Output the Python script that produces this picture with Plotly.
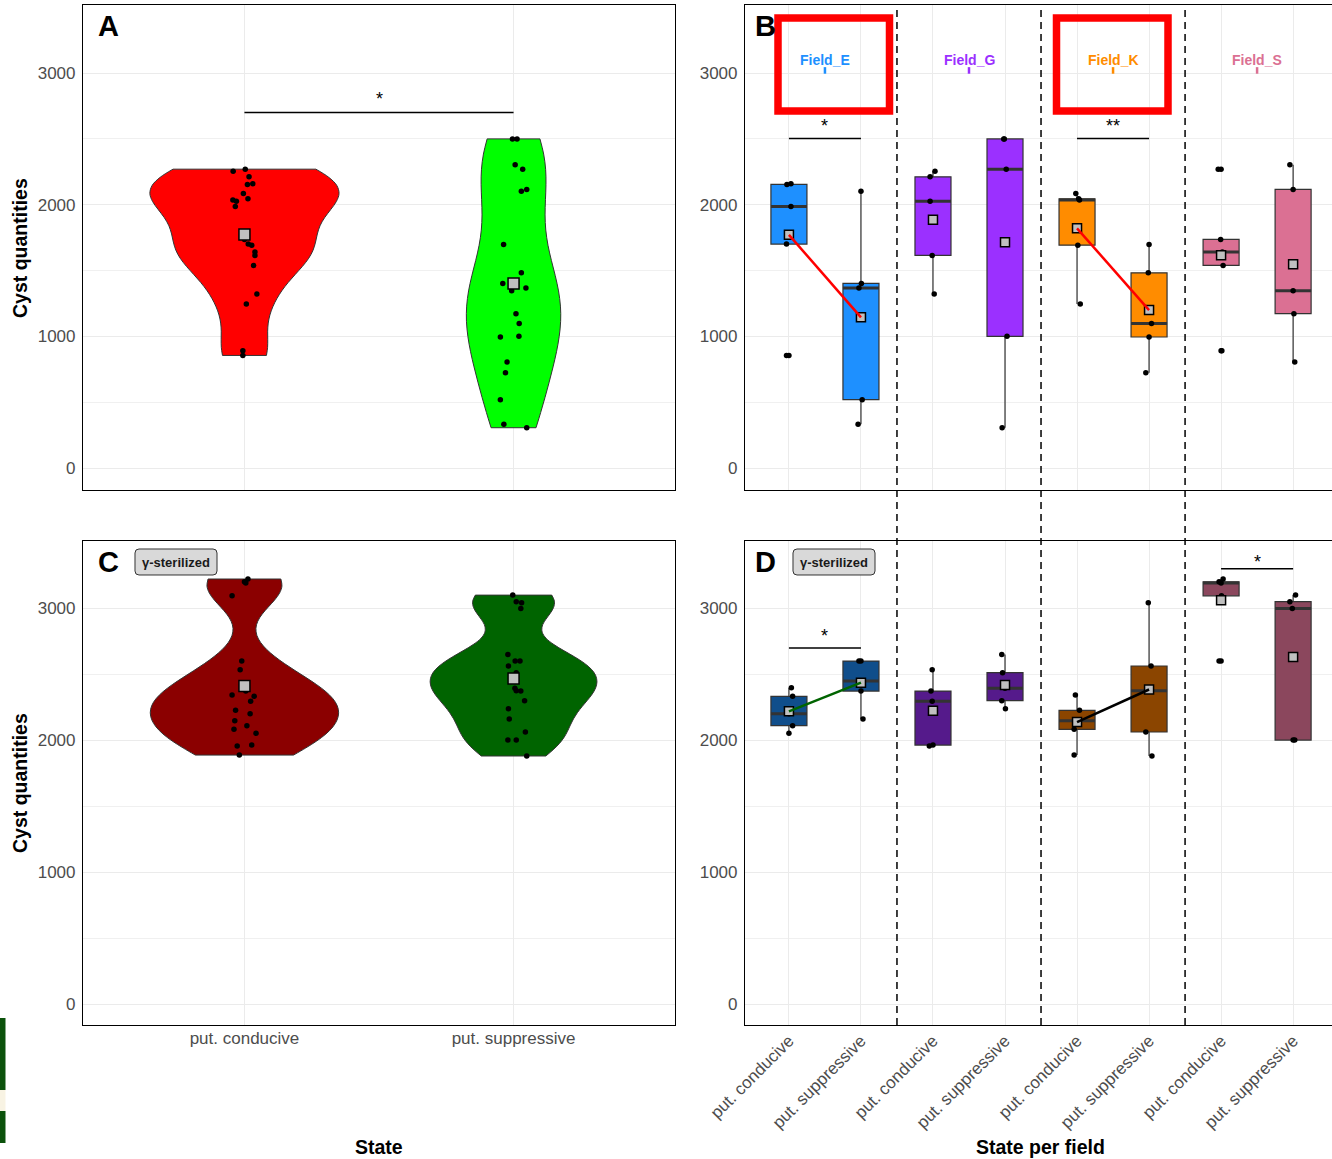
import numpy as np
import plotly.graph_objects as go

W, H = 1332, 1159
FONT = "Liberation Sans"

state_labels = ["put. conducive", "put. suppressive"]
field_names = ["Field_E", "Field_G", "Field_K", "Field_S"]
y_ticks = [0, 1000, 2000, 3000]

# ---- Panel B: cyst quantities per field and state (natural soil)
B_E_cond = [2160, 2154, 1987, 1701, 855]
B_E_supp = [2103, 1402, 1367, 519, 332]
B_G_cond = [2255, 2212, 2027, 1615, 1321]
B_G_supp = [2500, 2500, 2270, 1000, 306]
B_K_cond = [2086, 2045, 2035, 1693, 1245]
B_K_supp = [1698, 1483, 1098, 995, 724]
B_S_cond = [2270, 1736, 1640, 1539, 891]
B_S_supp = [2303, 2116, 1346, 1172, 805]

# ---- Panel D: cyst quantities per field and state (gamma-sterilized soil)
D_E_cond = [2396, 2331, 2199, 2109, 2051]
D_E_supp = [2598, 2598, 2447, 2371, 2159]
D_G_cond = [2533, 2371, 2293, 1962, 1955]
D_G_supp = [2649, 2510, 2392, 2298, 2237]
D_K_cond = [2341, 2225, 2146, 2081, 1886]
D_K_supp = [3040, 2561, 2374, 2061, 1879]
D_S_cond = [3220, 3199, 3189, 3093, 2598]
D_S_supp = [3098, 3048, 2997, 2000, 2000]

# Panels A and C pool the fields
A_cond = B_E_cond + B_G_cond + B_K_cond + B_S_cond
A_supp = B_E_supp + B_G_supp + B_K_supp + B_S_supp
C_cond = D_E_cond + D_G_cond + D_K_cond + D_S_cond
C_supp = D_E_supp + D_G_supp + D_K_supp + D_S_supp

# horizontal jitter of the points (category units)
jit_A_cond = [0.031, 0.011, -0.034, 0.014, -0.006, -0.042, 0.017, -0.030, 0.039, 0.046,
              -0.004, 0.013, -0.043, 0.027, 0.007, 0.003, 0.0, 0.039, 0.034, -0.006]
jit_A_supp = [0.029, -0.040, 0.046, -0.049, -0.036, -0.004, 0.013, 0.034, 0.020, 0.049,
              -0.037, 0.029, 0.021, -0.049, -0.030, 0.006, 0.049, -0.007, 0.009, -0.024]
jit_C_cond = [-0.003, 0.036, 0.021, 0.009, 0.043, -0.016, 0.005, 0.023, 0.027, -0.027,
              -0.046, -0.033, -0.036, -0.039, -0.019, 0.013, 0.0, 0.005, -0.046, -0.010]
jit_C_supp = [0.006, 0.024, 0.0, 0.027, -0.016, -0.021, 0.010, 0.005, 0.041, -0.019,
              0.030, -0.019, 0.010, 0.044, 0.049, -0.003, 0.010, 0.027, -0.021, 0.010]
jit_B = [[0.028, -0.028, 0.028, -0.034, -0.034], [0.0, 0.006, -0.028, 0.017, -0.04],
         [0.028, -0.04, -0.04, -0.011, 0.017], [-0.017, -0.01, 0.017, 0.028, -0.04],
         [-0.017, 0.023, 0.034, 0.011, 0.045], [0.0, -0.011, 0.034, 0.0, -0.045],
         [-0.04, -0.006, 0.017, 0.028, 0.011], [-0.045, 0.0, 0.0, 0.011, 0.023]]
jit_D = [[0.034, 0.051, 0.0, 0.051, 0.0], [-0.028, 0.0, 0.0, 0.0, 0.028],
         [-0.011, -0.028, -0.011, 0.0, -0.051], [-0.045, -0.034, 0.0, -0.045, 0.006],
         [-0.023, 0.034, 0.0, -0.04, -0.04], [-0.011, 0.028, 0.0, -0.045, 0.04],
         [0.028, -0.028, 0.0, 0.006, -0.028], [0.034, -0.045, -0.011, 0.023, 0.0]]

col_B = ["#1E90FF", "#9B30FF", "#FF8C00", "#DB7093"]
col_D = ["#104E8B", "#551A8B", "#8B4500", "#8B475D"]
col_A = ["#FF0000", "#00FF00"]
col_C = ["#8B0000", "#006400"]


def px(x):
    return x / W


def py(y):
    return 1 - y / H


def bw_nrd0(v):
    v = np.asarray(v, float)
    sd = v.std(ddof=1)
    q75, q25 = np.percentile(v, [75, 25])
    lo = min(sd, (q75 - q25) / 1.34)
    return 0.9 * lo * len(v) ** -0.2


def box_stats(v):
    a = np.sort(np.asarray(v, float))
    q1, med, q3 = np.percentile(a, [25, 50, 75])
    iqr = q3 - q1
    lf, hf = q1 - 1.5 * iqr, q3 + 1.5 * iqr
    inside = a[(a >= lf) & (a <= hf)]
    out = a[(a < lf) | (a > hf)]
    return q1, med, q3, inside.min(), inside.max(), out


fig = go.Figure()


def add_violin_panel(xa, ya, groups, jits, cols, widths):
    for i, (vals, col, wd) in enumerate(zip(groups, cols, widths)):
        fig.add_trace(go.Violin(
            x=[i] * len(vals), y=vals, width=wd, scalemode="width", spanmode="hard",
            bandwidth=bw_nrd0(vals), fillcolor=col, opacity=1,
            line=dict(color="#333333", width=1), points=False,
            box_visible=False, meanline_visible=False, side="both",
            xaxis=xa, yaxis=ya, showlegend=False, hoverinfo="skip"))
    for i, (vals, jit) in enumerate(zip(groups, jits)):
        fig.add_trace(go.Scatter(
            x=[i + j for j in jit], y=vals, mode="markers",
            marker=dict(color="black", size=5.5), xaxis=xa, yaxis=ya,
            showlegend=False, hoverinfo="skip"))
    fig.add_trace(go.Scatter(
        x=list(range(len(groups))), y=[np.mean(g) for g in groups], mode="markers",
        marker=dict(symbol="square", size=11, color="#C0C0C0",
                    line=dict(color="black", width=1.5)),
        xaxis=xa, yaxis=ya, showlegend=False, hoverinfo="skip"))


add_violin_panel("x", "y", [A_cond, A_supp], [jit_A_cond, jit_A_supp], col_A, [0.703, 0.35])
add_violin_panel("x3", "y3", [C_cond, C_supp], [jit_C_cond, jit_C_supp], col_C, [0.70, 0.62])


def add_box_panel(xa, ya, groups, jits, cols, line_specs):
    means = [np.mean(g) for g in groups]
    for i, vals in enumerate(groups):
        q1, med, q3, lo, hi, out = box_stats(vals)
        col = cols[i // 2]
        fig.add_trace(go.Box(
            x=[i], q1=[q1], median=[med], q3=[q3], lowerfence=[lo], upperfence=[hi],
            orientation="v", width=0.5, fillcolor=col, whiskerwidth=0,
            line=dict(color="#333333", width=1.2), boxpoints=False,
            xaxis=xa, yaxis=ya, showlegend=False, hoverinfo="skip"))
        fig.add_trace(go.Scatter(
            x=[i - 0.25, i + 0.25], y=[med, med], mode="lines",
            line=dict(color="#333333", width=3), xaxis=xa, yaxis=ya,
            showlegend=False, hoverinfo="skip"))
        if len(out):
            fig.add_trace(go.Scatter(
                x=[i] * len(out), y=list(out), mode="markers",
                marker=dict(color="black", size=5.5), xaxis=xa, yaxis=ya,
                showlegend=False, hoverinfo="skip"))
    for i, (vals, jit) in enumerate(zip(groups, jits)):
        fig.add_trace(go.Scatter(
            x=[i + j for j in jit], y=vals, mode="markers",
            marker=dict(color="black", size=5.5), xaxis=xa, yaxis=ya,
            showlegend=False, hoverinfo="skip"))
    fig.add_trace(go.Scatter(
        x=list(range(len(groups))), y=means, mode="markers",
        marker=dict(symbol="square", size=9, color="#C0C0C0",
                    line=dict(color="black", width=1.5)),
        xaxis=xa, yaxis=ya, showlegend=False, hoverinfo="skip"))
    for a, b, lc in line_specs:
        fig.add_trace(go.Scatter(
            x=[a, b], y=[means[a], means[b]], mode="lines",
            line=dict(color=lc, width=2.5), xaxis=xa, yaxis=ya,
            showlegend=False, hoverinfo="skip"))


groups_B = [B_E_cond, B_E_supp, B_G_cond, B_G_supp, B_K_cond, B_K_supp, B_S_cond, B_S_supp]
groups_D = [D_E_cond, D_E_supp, D_G_cond, D_G_supp, D_K_cond, D_K_supp, D_S_cond, D_S_supp]
add_box_panel("x2", "y2", groups_B, jit_B, col_B, [(0, 1, "#FF0000"), (4, 5, "#FF0000")])
add_box_panel("x4", "y4", groups_D, jit_D, col_D, [(0, 1, "#006400"), (4, 5, "black")])

shapes = []
annots = []

for xv in [1.5, 3.5, 5.5]:
    shapes.append(dict(type="line", xref="x2", yref="paper", x0=xv, x1=xv,
                       y0=py(1025), y1=py(5),
                       line=dict(color="black", width=1.5, dash="7px,5px")))

sig = [("x", "y", 0, 1, 2701, 2800, "*"),
       ("x2", "y2", 0, 1, 2503, 2599, "*"),
       ("x2", "y2", 4, 5, 2503, 2599, "**"),
       ("x4", "y4", 0, 1, 2697, 2790, "*"),
       ("x4", "y4", 6, 7, 3298, 3348, "*")]
for xr, yr, a, b, by, sy, lab in sig:
    shapes.append(dict(type="line", xref=xr, yref=yr, x0=a, x1=b, y0=by, y1=by,
                       line=dict(color="black", width=1.5)))
    annots.append(dict(xref=xr, yref=yr, x=(a + b) / 2, y=sy, text=lab, showarrow=False,
                       font=dict(family=FONT, size=18, color="black"),
                       xanchor="center", yanchor="middle"))

for k, (name, col) in enumerate(zip(field_names, col_B)):
    xc = 2 * k + 0.5
    annots.append(dict(xref="x2", yref="y2", x=xc, y=3098, text="<b>%s</b>" % name,
                       showarrow=False, font=dict(family=FONT, size=14, color=col),
                       xanchor="center", yanchor="middle"))
    shapes.append(dict(type="line", xref="x2", yref="y2", x0=xc, x1=xc, y0=2995, y1=3045,
                       line=dict(color=col, width=2.5)))

for x0, x1 in [(778, 889.5), (1056.5, 1168)]:
    shapes.append(dict(type="rect", xref="paper", yref="paper",
                       x0=px(x0), x1=px(x1), y0=py(111), y1=py(18),
                       line=dict(color="#FF0000", width=7.5), fillcolor="rgba(0,0,0,0)"))

for y0, y1, c in [(1018, 1090, "#0B520B"), (1090, 1111, "#F8F3E3"), (1111, 1143, "#0B520B")]:
    shapes.append(dict(type="rect", xref="paper", yref="paper", x0=0, x1=px(5.5),
                       y0=py(y1), y1=py(y0), line=dict(width=0), fillcolor=c))

for lab, x, y in [("A", 108, 26), ("B", 765, 26), ("C", 108, 562), ("D", 765, 562)]:
    annots.append(dict(xref="paper", yref="paper", x=px(x), y=py(y), text="<b>%s</b>" % lab,
                       showarrow=False, font=dict(family=FONT, size=29, color="black"),
                       xanchor="center", yanchor="middle"))


def rounded_rect(x0, y0, x1, y1, r):
    # pixel box -> paper-coordinate SVG path with rounded corners
    X = lambda v: px(v)
    Y = lambda v: py(v)
    return ("M %f,%f L %f,%f Q %f,%f %f,%f L %f,%f Q %f,%f %f,%f L %f,%f Q %f,%f %f,%f "
            "L %f,%f Q %f,%f %f,%f Z") % (
        X(x0 + r), Y(y0), X(x1 - r), Y(y0), X(x1), Y(y0), X(x1), Y(y0 + r),
        X(x1), Y(y1 - r), X(x1), Y(y1), X(x1 - r), Y(y1),
        X(x0 + r), Y(y1), X(x0), Y(y1), X(x0), Y(y1 - r),
        X(x0), Y(y0 + r), X(x0), Y(y0), X(x0 + r), Y(y0))


for xl in [135, 793]:
    shapes.append(dict(type="path", xref="paper", yref="paper",
                       path=rounded_rect(xl, 549, xl + 82, 575, 4),
                       fillcolor="#D9D9D9", line=dict(color="#333333", width=1)))
    annots.append(dict(xref="paper", yref="paper", x=px(xl + 41), y=py(562),
                       text="<b>γ-sterilized</b>", showarrow=False,
                       font=dict(family=FONT, size=13, color="#1a1a1a"),
                       xanchor="center", yanchor="middle"))

for yc in [248, 783]:
    annots.append(dict(xref="paper", yref="paper", x=px(20), y=py(yc),
                       text="<b>Cyst quantities</b>", textangle=-90, showarrow=False,
                       font=dict(family=FONT, size=19.5, color="black"),
                       xanchor="center", yanchor="middle"))
annots.append(dict(xref="paper", yref="paper", x=px(379), y=py(1147), text="<b>State</b>",
                   showarrow=False, font=dict(family=FONT, size=19.5, color="black"),
                   xanchor="center", yanchor="middle"))
annots.append(dict(xref="paper", yref="paper", x=px(1040), y=py(1147),
                   text="<b>State per field</b>", showarrow=False,
                   font=dict(family=FONT, size=19.5, color="black"),
                   xanchor="center", yanchor="middle"))

tickfont = dict(family=FONT, size=17, color="#4D4D4D")
grid = dict(showgrid=True, gridcolor="#EBEBEB", gridwidth=1, zeroline=False,
            showline=True, linecolor="black", linewidth=1.2, ticks="", automargin=False)


def yax(dom, rng, anchor, mirror):
    return dict(domain=dom, range=rng, anchor=anchor, tickvals=y_ticks,
                ticktext=[str(t) for t in y_ticks], tickfont=tickfont, mirror=mirror,
                ticklabelstandoff=3,
                minor=dict(tickvals=[500, 1500, 2500], showgrid=True,
                           gridcolor="#F0F0F0", gridwidth=1), **grid)


def xax(dom, rng, anchor, tickvals, ticktext, show, angle=0, standoff=-3):
    return dict(domain=dom, range=rng, anchor=anchor, tickvals=tickvals, ticktext=ticktext,
                showticklabels=show, tickfont=tickfont, tickangle=angle, mirror=True,
                ticklabelstandoff=standoff, **grid)


domA = [px(83), px(675)]
domB = [px(745), 1.0]
top = [py(490), py(5)]
bot = [py(1025), py(541)]
cat8 = list(range(8))
lab8 = state_labels * 4

fig.update_layout(
    width=W, height=H, margin=dict(l=0, r=0, t=0, b=0, autoexpand=False),
    paper_bgcolor="white", plot_bgcolor="white",
    violinmode="overlay", boxmode="overlay", showlegend=False,
    font=dict(family=FONT),
    xaxis=xax(domA, [-0.6, 1.6], "y", [0, 1], state_labels, False),
    xaxis2=xax(domB, [-0.61, 7.54], "y2", cat8, lab8, False),
    xaxis3=xax(domA, [-0.6, 1.6], "y3", [0, 1], state_labels, True),
    xaxis4=xax(domB, [-0.61, 7.54], "y4", cat8, lab8, True, -45, -2),
    yaxis=yax(top, [-167, 3517], "x", True),
    yaxis2=yax(top, [-167, 3517], "x2", False),
    yaxis3=yax(bot, [-159, 3508], "x3", True),
    yaxis4=yax(bot, [-159, 3508], "x4", False),
    shapes=shapes, annotations=annots,
)

fig.write_html("out.html", config={"displayModeBar": False})

# remove the default page margin so the figure sits at the window's origin
with open("out.html", encoding="utf-8") as f:
    html = f.read()
html = html.replace("<head>", "<head><style>html,body{margin:0;padding:0;overflow:hidden;}</style>", 1)
with open("out.html", "w", encoding="utf-8") as f:
    f.write(html)
